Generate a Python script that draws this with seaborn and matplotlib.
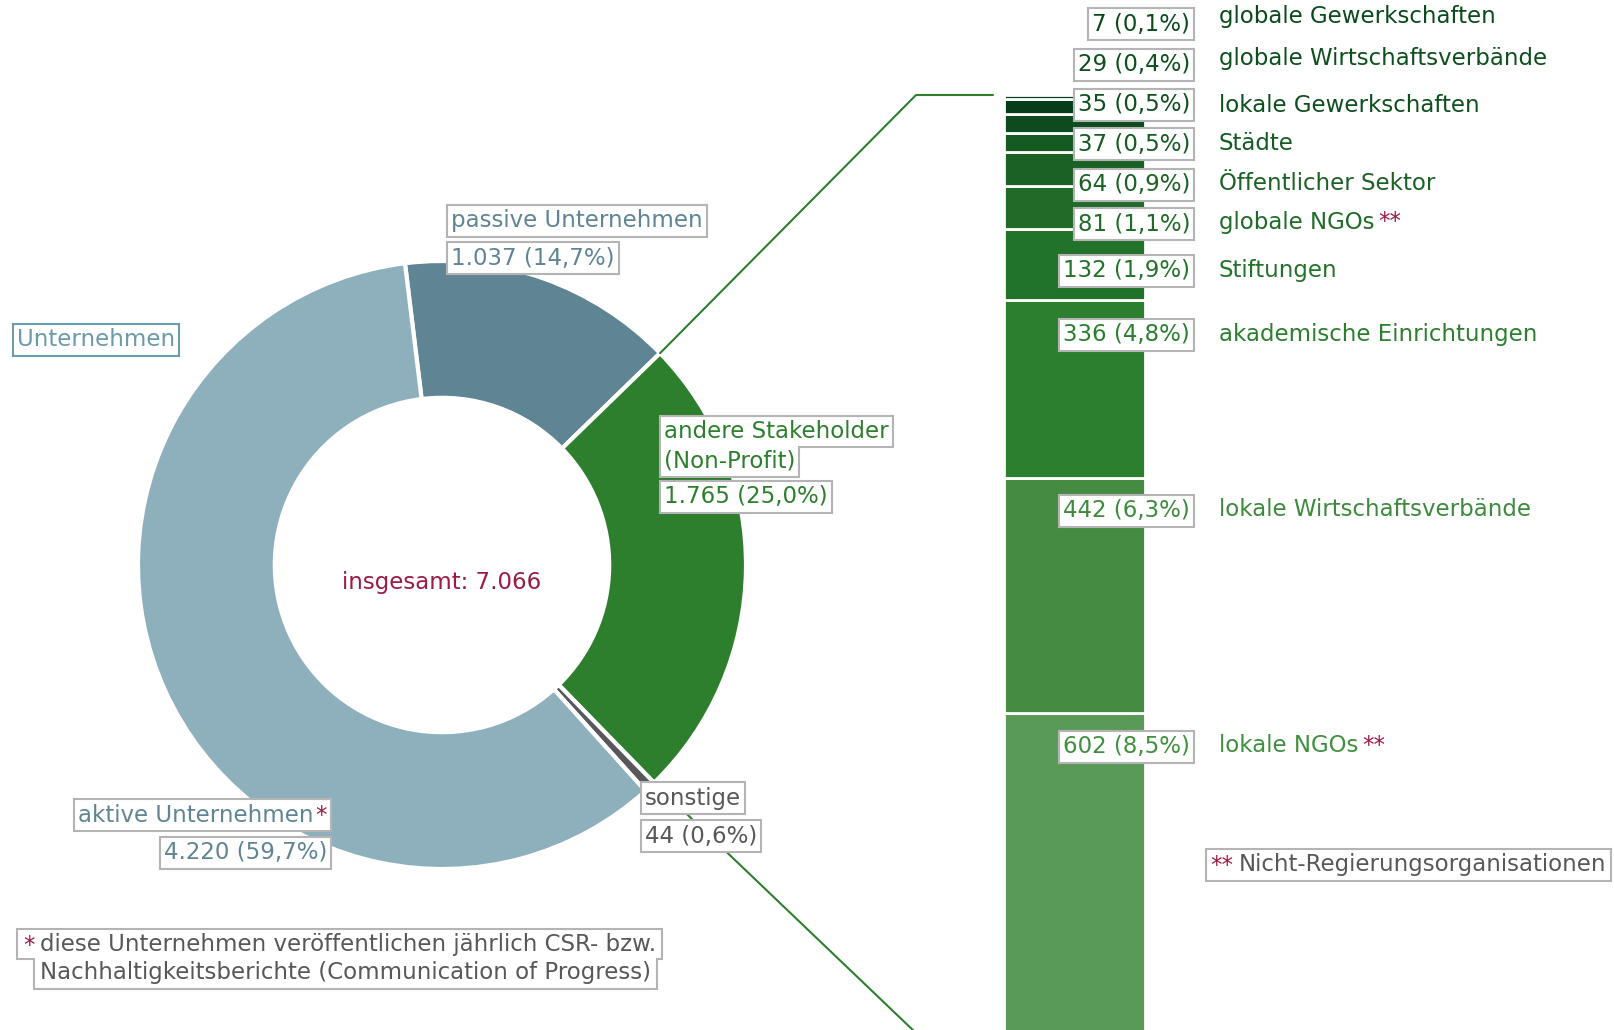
import numpy as np
import seaborn as sns
from matplotlib import pyplot as plt
from matplotlib.patches import Polygon

# donut data (drawing order, clockwise from top)
main_labels = ['passive Unternehmen', 'andere Stakeholder', 'sonstige', 'aktive Unternehmen']
main_values = [1037, 1765, 44, 4220]
main_colors = ['#5f8594', '#2d7f2e', '#58585a', '#8eb0bc']

# breakdown of "andere Stakeholder", top to bottom
sub_labels = ['globale Gewerkschaften', 'globale Wirtschaftsverbände', 'lokale Gewerkschaften',
              'Städte', 'Öffentlicher Sektor', 'globale NGOs', 'Stiftungen',
              'akademische Einrichtungen', 'lokale Wirtschaftsverbände', 'lokale NGOs']
sub_values = [7, 29, 35, 37, 64, 81, 132, 336, 442, 602]
sub_colors = ['#073a16', '#053d18', '#0d4a1d', '#145a22', '#1b6125', '#1f6b27',
              '#22732a', '#2b7f2e', '#458c42', '#5a9a58']
sub_text_colors = ['#0b4a1c', '#0e4f1e', '#0e4f1e', '#145a22', '#1b6125', '#1f6b27',
                   '#22732a', '#2b7f2e', '#3d8a3d', '#3f8f3f']
sub_stars = [False, False, False, False, False, True, False, False, False, True]

TOTAL = sum(main_values)
W, H = 1614, 1030
CRIMSON = '#9b1b43'
BOXEDGE = '#b4b4b4'
TEAL = '#5f8594'
GREY = '#58585a'
GREEN = '#2d7f2e'
FS = 16.5


def de_num(v):
    return f"{v:,}".replace(',', '.')


def de_pct(v):
    return f"{100 * v / TOTAL:.1f}".replace('.', ',') + '%'


sns.set_theme(style='white')
plt.rcParams['font.family'] = ['DejaVu Sans']

fig = plt.figure(figsize=(W / 100, H / 100), dpi=100)

# donut
cx, cy, R = 442, 565, 304
ax_d = fig.add_axes([(cx - R) / W, (H - cy - R) / H, 2 * R / W, 2 * R / H])
wedges, _ = ax_d.pie(main_values, colors=main_colors, startangle=97, counterclock=False,
                     radius=1, wedgeprops=dict(width=0.45, edgecolor='white', linewidth=3))
ax_d.set_xlim(-1, 1)
ax_d.set_ylim(-1, 1)
ax_d.axis('off')

# stacked bar
bar_top, bar_bot, bar_l, bar_r = 95, 1033, 1004, 1145
ax_b = fig.add_axes([bar_l / W, (H - bar_bot) / H, (bar_r - bar_l) / W, (bar_bot - bar_top) / H])
vals_up = sub_values[::-1]
cols_up = sub_colors[::-1]
bottoms = np.concatenate([[0], np.cumsum(vals_up)[:-1]])
ax_b.bar(np.zeros(len(vals_up)), vals_up, bottom=bottoms, width=1, color=cols_up,
         edgecolor='white', linewidth=2)
ax_b.set_xlim(-0.5, 0.5)
ax_b.set_ylim(0, sum(sub_values))
ax_b.axis('off')

# overlay in pixel coordinates (y down)
ax = fig.add_axes([0, 0, 1, 1], facecolor='none')
ax.set_xlim(0, W)
ax.set_ylim(H, 0)
ax.axis('off')


def to_px(axes, x, y):
    disp = axes.transData.transform((x, y))
    return ax.transData.inverted().transform(disp)


def txt(x, y, s, color, ha='left'):
    return ax.text(x, y, s, color=color, fontsize=FS, ha=ha, va='center', zorder=4)


def star_after(t, s='*', gap=2):
    return ax.annotate(s, xy=(1, 1), xycoords=t, xytext=(gap, 0), textcoords='offset points',
                       ha='left', va='top', color=CRIMSON, fontsize=FS, zorder=4)


def star_before(t, s='*', gap=4):
    return ax.annotate(s, xy=(0, 1), xycoords=t, xytext=(-gap, 0), textcoords='offset points',
                       ha='right', va='top', color=CRIMSON, fontsize=FS, zorder=4)


def frame(rows, ec=BOXEDGE, padx=4, pady=4.5):
    """white box with outline around one or two stacked rows of texts"""
    fig.canvas.draw()
    rend = fig.canvas.get_renderer()
    inv = ax.transData.inverted()
    rects = []
    for row in rows:
        bbs = [inv.transform(t.get_window_extent(rend)) for t in row]
        x0 = min(b[:, 0].min() for b in bbs) - padx
        x1 = max(b[:, 0].max() for b in bbs) + padx
        y0 = min(b[:, 1].min() for b in bbs) - pady
        y1 = max(b[:, 1].max() for b in bbs) + pady
        rects.append([x0, x1, y0, y1])
    if len(rects) == 1:
        x0, x1, y0, y1 = rects[0]
        pts = [(x0, y0), (x1, y0), (x1, y1), (x0, y1)]
    else:
        (a0, a1, ay0, ay1), (b0, b1, by0, by1) = rects
        ym = (ay1 + by0) / 2
        pts = [(a0, ay0), (a1, ay0), (a1, ym), (b1, ym), (b1, by1), (b0, by1), (b0, ym), (a0, ym)]
    ax.add_patch(Polygon(pts, closed=True, fc='white', ec=ec, lw=1.5, zorder=3))


# connector lines from the green wedge to the bar
g = wedges[1]
for ang, yv in [(g.theta2, sum(sub_values)), (g.theta1, 0)]:
    p0 = to_px(ax_d, np.cos(np.radians(ang)), np.sin(np.radians(ang)))
    p1 = to_px(ax_b, -0.5, yv)
    ax.plot([p0[0], 916, p1[0] - 11], [p0[1], p1[1], p1[1]], color=GREEN, lw=1.5, zorder=1)

# donut labels
t = txt(451, 221, main_labels[0], TEAL)
frame([[t]])
t = txt(451, 258, f"{de_num(1037)} ({de_pct(1037)})", TEAL)
frame([[t]])
t = txt(17, 340, 'Unternehmen', '#6b9aaa')
frame([[t]], ec='#6b9aaa')
t1 = txt(664, 432, main_labels[1], GREEN)
t2 = txt(664, 461, '(Non-Profit)', GREEN)
frame([[t1], [t2]])
t = txt(664, 497, f"{de_num(1765)} ({de_pct(1765)})", GREEN)
frame([[t]])
ax.text(cx, 582, f"insgesamt: {de_num(TOTAL)}", color=CRIMSON, fontsize=FS, ha='center',
        va='center', zorder=4)
t = txt(313, 815, main_labels[3], TEAL, ha='right')
s = star_after(t)
frame([[t, s]])
t = txt(327, 853, f"{de_num(4220)} ({de_pct(4220)})", TEAL, ha='right')
frame([[t]])
t = txt(645, 798, main_labels[2], GREY)
frame([[t]])
t = txt(645, 836, f"{de_num(44)} ({de_pct(44)})", GREY)
frame([[t]])

# footnotes
t1 = txt(40, 945, 'diese Unternehmen veröffentlichen jährlich CSR- bzw.', GREY)
s = star_before(t1)
t2 = txt(40, 973, 'Nachhaltigkeitsberichte (Communication of Progress)', GREY)
frame([[s, t1], [t2]], padx=6)
t = txt(1239, 865, 'Nicht-Regierungsorganisationen', GREY)
s = star_before(t, '**')
frame([[s, t]])

# bar labels
name_y = [18, 60, 106, 144, 184, 223, 271, 335, 511, 747]
value_y = [24, 65, 105, 144, 185, 224, 271, 335, 511, 747]
for name, v, c, star, yn, yv in zip(sub_labels, sub_values, sub_text_colors, sub_stars,
                                    name_y, value_y):
    t = txt(1190, yv, f"{de_num(v)} ({de_pct(v)})", c, ha='right')
    frame([[t]])
    tn = txt(1219, yn - 1, name, c)
    if star:
        star_after(tn, '**', gap=3)

fig.savefig('out.png', dpi=100)
